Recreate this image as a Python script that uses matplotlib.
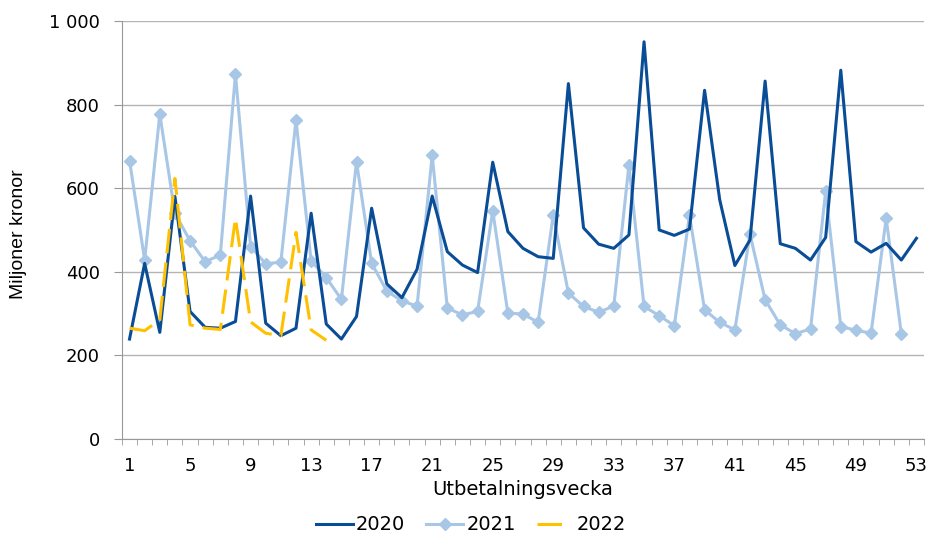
import matplotlib
matplotlib.use("Agg")
import matplotlib.pyplot as plt
from matplotlib.ticker import FuncFormatter, FixedLocator
from matplotlib.lines import Line2D
import numpy as np

plt.rcParams['font.family'] = ['DejaVu Sans']

weeks = list(range(1, 54))
v2020 = [239, 420, 255, 580, 305, 267, 265, 281, 581, 277, 247, 265, 540, 275, 239, 293,
         552, 371, 338, 406, 581, 448, 416, 398, 662, 496, 456, 436, 432, 850, 505, 466,
         456, 488, 950, 500, 487, 502, 834, 572, 415, 476, 856, 467, 456, 428, 482, 882,
         472, 447, 468, 428, 480]
v2021 = [666, 428, 777, 540, 474, 424, 440, 873, 460, 419, 423, 763, 426, 386, 334, 663,
         420, 354, 330, 318, 679, 313, 297, 305, 546, 301, 299, 279, 536, 349, 317, 303,
         318, 655, 317, 295, 271, 536, 309, 279, 261, 490, 333, 273, 252, 263, 592, 269,
         260, 253, 528, 252]
v2022 = [265, 259, 285, 623, 273, 265, 262, 528, 280, 253, 247, 494, 261, 236]
xticks = list(range(1, 54, 4))
series_names = ["2020", "2021", "2022"]

fig = plt.figure(figsize=(9.31, 5.36), dpi=100)
ax = fig.add_axes([0.131, 0.181, 0.8615, 0.78])

c20 = "#0a4d97"
c21 = "#a8c6e6"
c22 = "#ffc000"

l1, = ax.plot(weeks[:len(v2020)], v2020, color=c20, lw=2.2, zorder=3)
l2, = ax.plot(weeks[:len(v2021)], v2021, color=c21, lw=2.2, marker="D", ms=6.0, zorder=2)
l3, = ax.plot(weeks[:len(v2022)], v2022, color=c22, lw=2.2, ls=(0, (8.0, 3.0)), zorder=4)

ax.set_xlim(0.5, 53.5)
ax.set_ylim(0, 1000)
ax.set_yticks(range(0, 1001, 200))
ax.yaxis.set_major_formatter(FuncFormatter(lambda v, p: f"{int(v):,}".replace(",", " ")))
ax.set_xticks(xticks)
ax.xaxis.set_minor_locator(FixedLocator(np.arange(0.5, 54, 1)))
ax.tick_params(axis='x', which='major', length=0, labelsize=13, pad=13, colors='black')
ax.tick_params(axis='x', which='minor', length=4, color='#999999', direction='out')
ax.tick_params(axis='y', length=6, color='#999999', labelsize=13, pad=10, colors='black')

ax.grid(axis='y', color='#b4b4b4', lw=1.0)
ax.set_axisbelow(True)
for s in ['top', 'right']:
    ax.spines[s].set_visible(False)
ax.spines['left'].set_color('#999999')
ax.spines['bottom'].set_color('#999999')

ax.set_xlabel("Utbetalningsvecka", fontsize=14)
ax.xaxis.set_label_coords(0.5, -0.098)
ax.set_ylabel("Miljoner kronor", fontsize=14, family=['Liberation Sans', 'DejaVu Sans'])
ax.yaxis.set_label_coords(-0.119, 0.49)

h3 = Line2D([], [], color=c22, lw=2.2, ls=(0, (8.0, 6.0)))
fig.legend([l1, l2, h3], series_names, loc='center', bbox_to_anchor=(0.506, 11 / 536), ncol=3,
           frameon=False, fontsize=14, handlelength=1.9, columnspacing=1.1, handletextpad=0.15,
           borderpad=0, borderaxespad=0)

fig.savefig("out.png", dpi=100)
